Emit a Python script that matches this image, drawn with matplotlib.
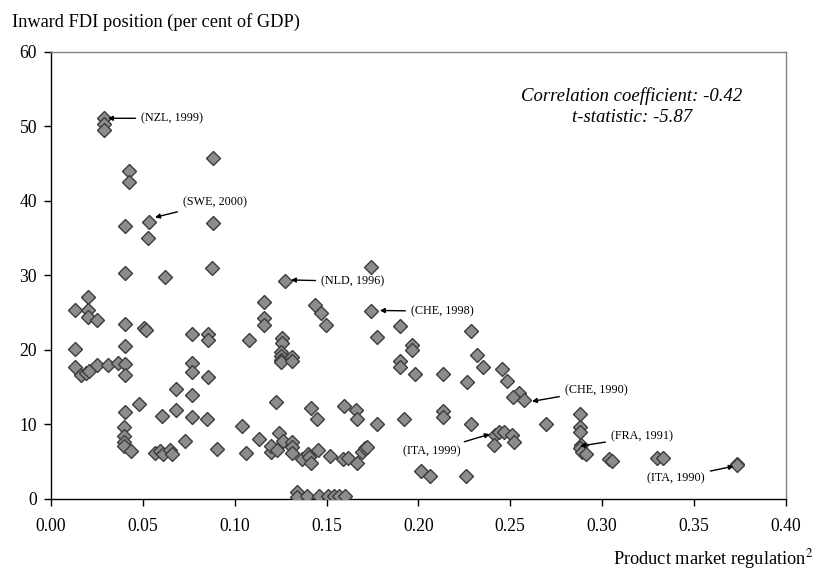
import matplotlib
matplotlib.use('Agg')
import matplotlib.pyplot as plt

plt.rcParams['font.family'] = ['Liberation Serif', 'DejaVu Serif']
plt.rcParams['mathtext.fontset'] = 'stix'

# product market regulation (x) and inward FDI position, % of GDP (y)
pmr = [0.0287, 0.0287, 0.0287, 0.0426, 0.0426, 0.088, 0.0403, 0.0532, 0.088, 0.0526,
       0.0403, 0.0619, 0.0878, 0.020, 0.0129, 0.020, 0.020, 0.0252, 0.0403, 0.0506,
       0.0515, 0.0767, 0.0854, 0.0854, 0.1079, 0.1157, 0.1157, 0.1157, 0.0129, 0.0403,
       0.0129, 0.0163, 0.019, 0.0205, 0.0252, 0.0309, 0.0365, 0.0403, 0.0403, 0.0767,
       0.0767, 0.0854, 0.0682, 0.0767, 0.0481, 0.0403, 0.0604, 0.0682, 0.0767, 0.0847,
       0.1039, 0.1223, 0.0396, 0.0396, 0.0396, 0.0396, 0.0435, 0.0566, 0.0593, 0.0611,
       0.0648, 0.0657, 0.0731, 0.0902, 0.1063, 0.1134, 0.1196, 0.120, 0.1228, 0.1243,
       0.1264, 0.131, 0.1313, 0.1313, 0.1364, 0.1397, 0.1405, 0.1415, 0.1451, 0.1517,
       0.1587, 0.1618, 0.1664, 0.1693, 0.1711, 0.1720, 0.1415, 0.1446, 0.1595, 0.1658,
       0.1664, 0.1773, 0.1921, 0.2132, 0.2132, 0.2288, 0.2693, 0.1744, 0.1275, 0.1744,
       0.1439, 0.1469, 0.1495, 0.190, 0.1774, 0.2287, 0.1259, 0.1259, 0.125, 0.125,
       0.125, 0.125, 0.131, 0.131, 0.1967, 0.1967, 0.190, 0.190, 0.1983, 0.2132,
       0.2318, 0.235, 0.2264, 0.2453, 0.2482, 0.2545, 0.2514, 0.2576, 0.2014, 0.2063,
       0.2259, 0.2417, 0.244, 0.2468, 0.2413, 0.2508, 0.252, 0.1337, 0.1337, 0.1395,
       0.146, 0.151, 0.154, 0.157, 0.160, 0.2881, 0.2881, 0.2881, 0.2887, 0.2881,
       0.289, 0.291, 0.3037, 0.3052, 0.3297, 0.333, 0.3733, 0.3733]
fdi = [51.1, 50.3, 49.5, 44.0, 42.5, 45.8, 36.6, 37.2, 37.0, 35.0,
       30.3, 29.8, 31.0, 27.1, 25.3, 25.3, 24.4, 24.0, 23.5, 23.0,
       22.7, 22.1, 22.2, 21.4, 21.4, 26.4, 24.3, 23.3, 20.1, 20.5,
       17.7, 16.7, 16.9, 17.2, 18.0, 18.0, 18.3, 18.1, 16.7, 18.3,
       17.1, 16.4, 14.8, 14.0, 12.8, 11.7, 11.2, 11.9, 11.0, 10.8,
       9.8, 13.0, 9.7, 8.4, 7.7, 7.1, 6.5, 6.2, 6.4, 6.1,
       6.6, 6.1, 7.8, 6.7, 6.2, 8.1, 6.3, 7.1, 6.6, 8.9,
       7.8, 7.7, 7.0, 6.2, 5.4, 6.1, 5.6, 4.8, 6.6, 5.8,
       5.3, 5.5, 4.8, 6.3, 6.8, 7.0, 12.2, 10.8, 12.5, 11.9,
       10.8, 10.0, 10.7, 11.8, 11.0, 10.0, 10.0, 31.1, 29.3, 25.2,
       26.1, 25.0, 23.3, 23.2, 21.7, 22.6, 21.6, 20.9, 19.7, 19.2,
       18.7, 18.4, 19.0, 18.5, 20.7, 20.0, 18.5, 17.7, 16.8, 16.8,
       19.3, 17.7, 15.7, 17.5, 15.9, 14.2, 13.7, 13.3, 3.8, 3.1,
       3.1, 8.6, 9.0, 9.0, 7.3, 8.6, 7.7, 0.9, 0.3, 0.4,
       0.4, 0.4, 0.4, 0.4, 0.4, 11.4, 9.7, 9.0, 7.3, 6.9,
       6.3, 6.1, 5.3, 5.1, 5.5, 5.5, 4.7, 4.5]

# labelled observations: text, arrow tip, text position, alignment
notes = [
    ('(NZL, 1999)', (0.031, 51.1), (0.049, 51.1), 'left'),
    ('(SWE, 2000)', (0.0566, 37.8), (0.0718, 39.8), 'left'),
    ('(NLD, 1996)', (0.1306, 29.4), (0.147, 29.2), 'left'),
    ('(CHE, 1998)', (0.179, 25.3), (0.1959, 25.2), 'left'),
    ('(CHE, 1990)', (0.2618, 13.1), (0.2797, 14.6), 'left'),
    ('(FRA, 1991)', (0.2879, 7.1), (0.3048, 8.4), 'left'),
    ('(ITA, 1999)', (0.2389, 8.7), (0.2231, 6.4), 'right'),
    ('(ITA, 1990)', (0.3717, 4.4), (0.3559, 2.8), 'right'),
]

fig = plt.figure(figsize=(8.16, 5.75), dpi=100)
ax = fig.add_axes([0.0625, 0.1322, 0.9005, 0.7774])

ax.plot(pmr, fdi, 'D', ms=7, mfc='#8c8c8c', mec='#3c3c3c', mew=1.0, zorder=3)

for label, tip, pos, ha in notes:
    ax.annotate(label, xy=tip, xytext=pos, ha=ha, va='center', fontsize=8.7,
                arrowprops=dict(arrowstyle='-|>', color='black', lw=1,
                                mutation_scale=7, shrinkA=2, shrinkB=0))

ax.text(0.3162, 54.1, 'Correlation coefficient: -0.42', style='italic',
        fontsize=13.5, ha='center', va='center')
ax.text(0.3162, 51.2, 't-statistic: -5.87', style='italic',
        fontsize=13.5, ha='center', va='center')

ax.set_xlim(0, 0.40)
ax.set_ylim(0, 60)
ax.set_xticks([0.0, 0.05, 0.10, 0.15, 0.20, 0.25, 0.30, 0.35, 0.40])
ax.set_xticklabels(['0.00', '0.05', '0.10', '0.15', '0.20', '0.25', '0.30', '0.35', '0.40'])
ax.set_yticks(range(0, 61, 10))
ax.tick_params(direction='out', length=5, width=1, labelsize=12.7, color='black')
ax.tick_params(axis='x', pad=9)
ax.tick_params(axis='y', pad=5)
for side in ['left', 'bottom']:
    ax.spines[side].set_color('black')
    ax.spines[side].set_linewidth(1)
for side in ['top', 'right']:
    ax.spines[side].set_color('#808080')
    ax.spines[side].set_linewidth(1)

fig.text(12 / 816, 1 - 22 / 575, 'Inward FDI position (per cent of GDP)',
         fontsize=13.2, ha='left', va='center')
fig.text(813 / 816, 4 / 575, 'Product market regulation$^2$',
         fontsize=13.2, ha='right', va='bottom')

plt.savefig('out.png', dpi=100)
